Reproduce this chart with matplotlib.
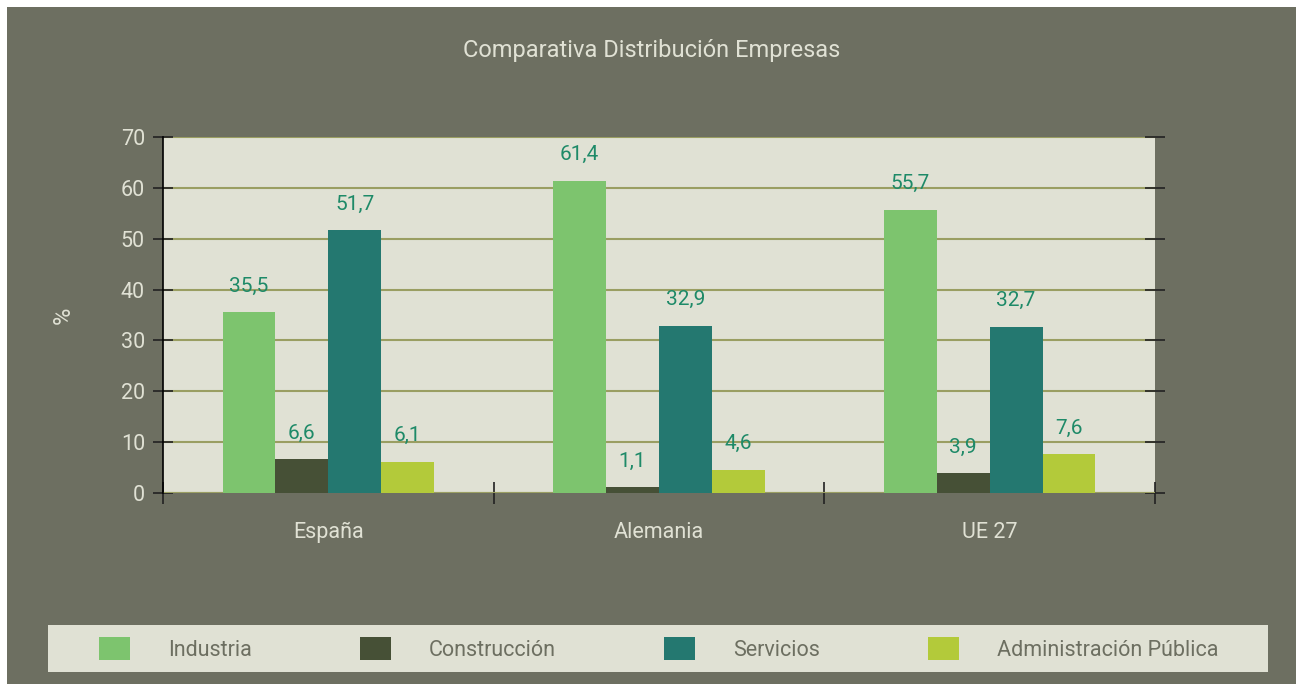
import matplotlib
matplotlib.use("Agg")
import matplotlib.pyplot as plt
from matplotlib.patches import Patch, Rectangle
import numpy as np

plt.rcParams['font.family'] = ['Roboto', 'DejaVu Sans']

categories = ["España", "Alemania", "UE 27"]
series_names = ["Industria", "Construcción", "Servicios", "Administración Pública"]
industria = [35.5, 61.4, 55.7]
construccion = [6.6, 1.1, 3.9]
servicios = [51.7, 32.9, 32.7]
administracion = [6.1, 4.6, 7.6]
series_values = [industria, construccion, servicios, administracion]
colors = ["#7dc46e", "#465036", "#247870", "#b3ca3a"]
yticks = [0, 10, 20, 30, 40, 50, 60, 70]

BG = "#6d6f61"
PLOT_BG = "#e0e1d4"
LIGHT = "#e0e1d4"
GRID = "#9a9e62"
VAL = "#1e8a68"

W, H = 1296, 684
fig = plt.figure(figsize=(W / 100, H / 100), dpi=100, facecolor="white")
fig.patches.append(Rectangle((7 / W, 0), 1 - 7 / W, 1 - 7 / H, transform=fig.transFigure,
                             facecolor=BG, edgecolor="none", zorder=-10))
# legend box
fig.patches.append(Rectangle((48 / W, (H - 672) / H), 1220 / W, 47 / H, transform=fig.transFigure,
                             facecolor=PLOT_BG, edgecolor="none", zorder=-5))

ax = fig.add_axes([163 / W, (H - 493) / H, 992 / W, 356 / H])
ax.set_facecolor(PLOT_BG)

x = np.arange(len(categories))
width = 0.16
offsets = [-1.5, -0.5, 0.5, 1.5]
for vals, col, off, name in zip(series_values, colors, offsets, series_names):
    bars = ax.bar(x + off * width, vals, width, color=col, label=name, zorder=3)
    for b, v in zip(bars, vals):
        ax.annotate(f"{v:.1f}".replace(".", ","), (b.get_x() + b.get_width() / 2, v),
                    xytext=(0, 12), textcoords="offset points", ha="center", va="bottom",
                    color=VAL, fontsize=15)

ax.set_xlim(-0.5, len(categories) - 0.5)
ax.set_ylim(0, 70)
ax.set_yticks(yticks)
ax.yaxis.grid(True, color=GRID, linewidth=1.5, zorder=1)
ax.set_axisbelow(True)
for s in ["top", "right", "bottom"]:
    ax.spines[s].set_visible(False)
ax.spines["left"].set_color("black")
ax.spines["left"].set_linewidth(1.2)
ax.axhline(0, color=GRID, linewidth=1.5, zorder=2)

ax.tick_params(axis="y", which="major", direction="inout", length=14, width=1.2,
               color="#222222", labelcolor=LIGHT, labelsize=15.5, right=True, pad=6)
ax.set_xticks(np.arange(-0.5, len(categories), 1.0))
ax.set_xticks(x, minor=True)
ax.set_xticklabels([])
ax.set_xticklabels(categories, minor=True)
ax.tick_params(axis="x", which="major", direction="inout", length=16, width=1.2, color="#222222")
ax.tick_params(axis="x", which="minor", length=0, labelcolor=LIGHT, labelsize=15.5, pad=21)

ax.set_ylabel("%", color=LIGHT, fontsize=17, labelpad=33)

fig.text((7 + W) / 2 / W, 1 - 51 / H, "Comparativa Distribución Empresas", ha="center",
         va="center", color=LIGHT, fontsize=17)

handles = [Patch(facecolor=c, edgecolor="none") for c in colors]
fs = 15.5
fs_px = fs * 100 / 72
leg = fig.legend(handles, series_names, loc="center left", ncol=4,
                 bbox_to_anchor=(99 / W, (H - 649) / H),
                 frameon=False, fontsize=fs, handlelength=31 / fs_px, handleheight=26 / fs_px,
                 handletextpad=38 / fs_px, columnspacing=108 / fs_px, borderpad=0,
                 borderaxespad=0)
for t in leg.get_texts():
    t.set_color(BG)

fig.savefig("out.png", dpi=100, facecolor=fig.get_facecolor())
